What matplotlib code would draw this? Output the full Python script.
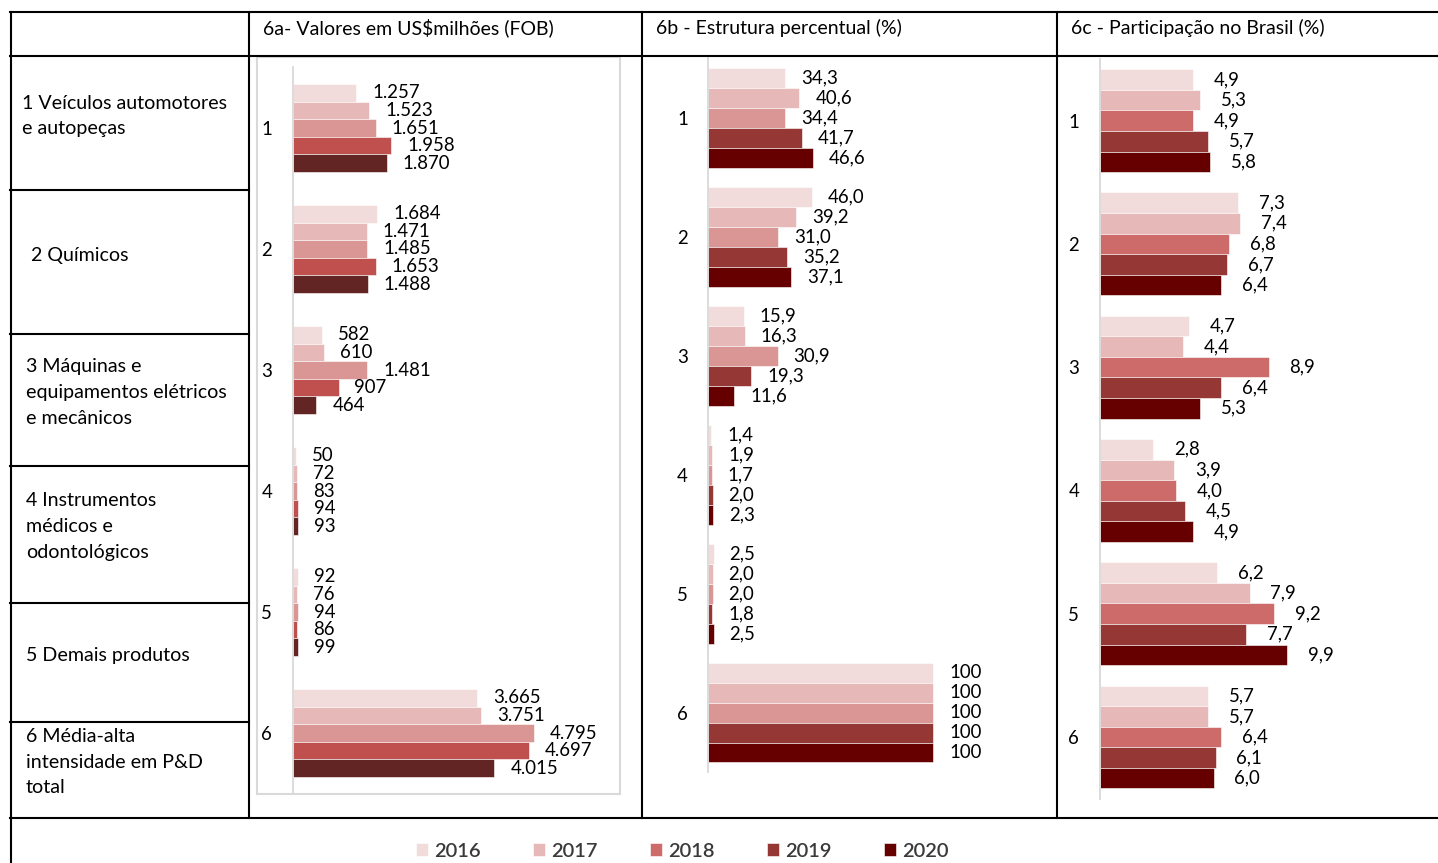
import matplotlib.pyplot as plt
from matplotlib.lines import Line2D
from matplotlib.patches import Rectangle

plt.rcParams['font.family'] = ['Lato', 'DejaVu Sans']

W, H = 1438, 863

years = ['2016', '2017', '2018', '2019', '2020']
codes = ['1', '2', '3', '4', '5', '6']
categories = [
    '1 Veículos automotores\ne autopeças',
    ' 2 Químicos',
    '3 Máquinas e\nequipamentos elétricos\ne mecânicos',
    '4 Instrumentos\nmédicos e\nodontológicos',
    '5 Demais produtos',
    '6 Média-alta\nintensidade em P&D\ntotal',
]

# 6a - US$ milhões (FOB), one row per category, columns 2016..2020
valores = [
    [1257, 1523, 1651, 1958, 1870],
    [1684, 1471, 1485, 1653, 1488],
    [582, 610, 1481, 907, 464],
    [50, 72, 83, 94, 93],
    [92, 76, 94, 86, 99],
    [3665, 3751, 4795, 4697, 4015],
]
# 6b - estrutura percentual
estrutura = [
    [34.3, 40.6, 34.4, 41.7, 46.6],
    [46.0, 39.2, 31.0, 35.2, 37.1],
    [15.9, 16.3, 30.9, 19.3, 11.6],
    [1.4, 1.9, 1.7, 2.0, 2.3],
    [2.5, 2.0, 2.0, 1.8, 2.5],
    [100, 100, 100, 100, 100],
]
# 6c - participação no Brasil
participacao = [
    [4.9, 5.3, 4.9, 5.7, 5.8],
    [7.3, 7.4, 6.8, 6.7, 6.4],
    [4.7, 4.4, 8.9, 6.4, 5.3],
    [2.8, 3.9, 4.0, 4.5, 4.9],
    [6.2, 7.9, 9.2, 7.7, 9.9],
    [5.7, 5.7, 6.4, 6.1, 6.0],
]

colors_a = ['#F2DCDB', '#E6B9B8', '#D99694', '#C0504D', '#632523']
colors_b = ['#F2DCDB', '#E6B9B8', '#D99694', '#953735', '#660000']
colors_c = ['#F2DCDB', '#E6B9B8', '#CC6B6A', '#953735', '#660000']


def fmt_milhoes(v):
    return f'{v:,.0f}'.replace(',', '.')


def fmt_pct(v):
    if v == 100:
        return '100'
    return f'{v:.1f}'.replace('.', ',')


def box(x0, y0, x1, y1):
    return [x0 / W, 1 - y1 / H, (x1 - x0) / W, (y1 - y0) / H]


fig = plt.figure(figsize=(W / 100, H / 100), dpi=100)
fig.patch.set_facecolor('white')

# table grid
def hline(y, x0, x1):
    fig.add_artist(Line2D([x0 / W, x1 / W], [1 - y / H, 1 - y / H],
                          transform=fig.transFigure, color='black', lw=1.5))


def vline(x, y0, y1):
    fig.add_artist(Line2D([x / W, x / W], [1 - y0 / H, 1 - y1 / H],
                          transform=fig.transFigure, color='black', lw=1.5))


hline(12, 10, W)
hline(56, 10, W)
hline(818, 10, W)
for y in [190, 334, 466, 603, 722]:
    hline(y, 10, 249)
vline(11, 12, H)
for x in [249, 642, 1057]:
    vline(x, 12, 818)

# headers
fig.text(263 / W, 1 - 28 / H, '6a- Valores em US$milhões (FOB)', fontsize=14, va='center')
fig.text(656 / W, 1 - 28 / H, '6b - Estrutura percentual (%)', fontsize=14, va='center')
fig.text(1071 / W, 1 - 28 / H, '6c - Participação no Brasil (%)', fontsize=14, va='center')

# row labels
label_x = [22, 26, 26, 26, 26, 26]
label_y = [116, 255, 392.5, 526.5, 655, 762]
for name, lx, ly in zip(categories, label_x, label_y):
    fig.text(lx / W, 1 - ly / H, name, fontsize=14.1, va='center', ha='left',
             linespacing=1.62)

# light frame around chart 6a
fig.add_artist(Rectangle((257 / W, 1 - 794 / H), (620 - 257) / W, (794 - 57) / H,
                         transform=fig.transFigure, fill=False,
                         edgecolor='#D9D9D9', lw=1.5))

panels = [
    dict(rect=box(293, 67.5, 594, 793.5), data=valores, colors=colors_a,
         xlim=(0, 6000), group=0.727, fmt=fmt_milhoes, off=11.5, pad=15),
    dict(rect=box(708, 58.5, 1023, 772), data=estrutura, colors=colors_b,
         xlim=(0, 140), group=0.84, fmt=fmt_pct, off=11.5, pad=14.5),
    dict(rect=box(1100, 59, 1403, 798.6), data=participacao, colors=colors_c,
         xlim=(0, 16), group=0.835, fmt=fmt_pct, off=15, pad=15),
]

legend_handles = None
for p in panels:
    ax = fig.add_axes(p['rect'])
    ax.set_facecolor('none')
    bh = p['group'] / len(years)
    handles = []
    for j, year in enumerate(years):
        ys = [i + (j - 2) * bh for i in range(len(codes))]
        vals = [row[j] for row in p['data']]
        bars = ax.barh(ys, vals, height=bh, color=p['colors'][j],
                       edgecolor='white', linewidth=0.4, label=year)
        handles.append(bars)
        for y, v in zip(ys, vals):
            ax.annotate(p['fmt'](v), xy=(v, y), xytext=(p['off'], 0),
                        textcoords='offset points', va='center', ha='left',
                        fontsize=13.4, color='black')
    legend_handles = handles
    ax.set_xlim(*p['xlim'])
    ax.set_ylim(len(codes) - 0.5, -0.5)
    ax.set_yticks(range(len(codes)))
    ax.set_yticklabels(codes, fontsize=13.4)
    ax.tick_params(axis='y', length=0, pad=p['pad'])
    ax.set_xticks([])
    for side in ['top', 'right', 'bottom']:
        ax.spines[side].set_visible(False)
    ax.spines['left'].set_color('#D9D9D9')
    ax.spines['left'].set_linewidth(1.3)

fig.legend(legend_handles, years, loc='center',
           bbox_to_anchor=(682 / W, 1 - 851 / H), ncol=5, frameon=False,
           prop={'size': 14.5, 'weight': 'semibold'},
           handlelength=0.6, handleheight=0.6,
           handletextpad=0.3, columnspacing=2.6, labelcolor='#3A3A3A')

fig.savefig('out.png', dpi=100)
